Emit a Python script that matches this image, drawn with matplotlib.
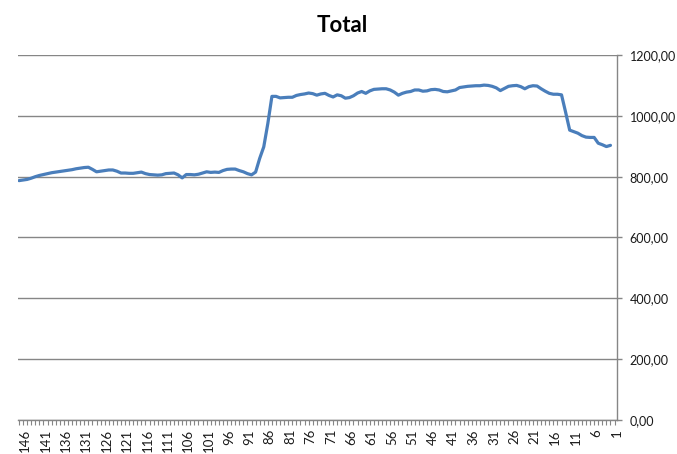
import numpy as np
import matplotlib
matplotlib.use("Agg")
import matplotlib.pyplot as plt
from matplotlib.transforms import ScaledTranslation
from matplotlib.ticker import FuncFormatter

# Categories run from 146 down to 1
categories = list(range(146, 0, -1))

values = [
    787, 789, 791, 795, 800, 804, 807, 810, 813, 815,
    817, 819, 821, 823, 826, 828, 830, 831, 824, 816,
    818, 820, 822, 822, 818, 812, 812, 811, 811, 813,
    815, 810, 807, 806, 805, 806, 810, 811, 812, 806,
    796, 807, 807, 806, 808, 812, 816, 814, 815, 814,
    820, 824, 825, 825, 820, 816, 810, 806, 815, 860,
    898, 975, 1064, 1064, 1059, 1060, 1061, 1061, 1067, 1070,
    1072, 1075, 1073, 1068, 1072, 1074, 1067, 1062, 1069, 1066,
    1058, 1060, 1066, 1075, 1080, 1074, 1082, 1087, 1088, 1089,
    1089, 1085, 1078, 1068, 1074, 1078, 1080, 1085, 1085, 1081,
    1082, 1086, 1087, 1085, 1080, 1079, 1082, 1085, 1093, 1095,
    1097, 1098, 1099, 1099, 1101, 1100, 1097, 1092, 1083, 1090,
    1097, 1099, 1100, 1096, 1089, 1096, 1099, 1098, 1089, 1081,
    1074, 1071, 1071, 1069, 1012, 953, 948, 943, 935, 930,
    929, 929, 910, 905, 899, 903,
]

label_every = 5
y_ticks = [0, 200, 400, 600, 800, 1000, 1200]
title = "Total"

plt.rcParams['font.family'] = ['Lato', 'DejaVu Sans']

W, H = 677, 454
fig = plt.figure(figsize=(W / 100, H / 100), dpi=100)
ax = fig.add_axes([18 / W, 1 - 420 / H, (617 - 18) / W, (420 - 55) / H])

pos = np.arange(len(categories))
ax.plot(pos, values, color="#4A7EBB", linewidth=2.3, solid_joinstyle="round",
        solid_capstyle="round", zorder=3)

ax.set_xlim(-0.25, len(categories) + 0.6)
ax.set_ylim(0, 1200)

# y axis on right
ax.yaxis.tick_right()
ax.set_yticks(y_ticks)
ax.yaxis.set_major_formatter(FuncFormatter(lambda v, p: f"{v:.2f}".replace(".", ",")))
ax.grid(axis="y", color="#868686", linewidth=1.0, zorder=0)
ax.tick_params(axis="y", right=True, left=False, length=3.5, width=1.0,
               color="#868686", pad=5.5, labelsize=9, labelcolor="#1a1a1a")

# x axis
major = pos[::label_every]
ax.set_xticks(major)
ax.set_xticklabels([str(categories[i]) for i in major], rotation=90,
                   va="top", ha="center")
ax.set_xticks(np.arange(0, len(categories) + 1), minor=True)
ax.tick_params(axis="x", which="both", length=3.5, width=0.8, color="#868686",
               pad=3, labelsize=9.5, labelcolor="#1a1a1a")
offset = ScaledTranslation(6 / 100, 0, fig.dpi_scale_trans)
for lab in ax.get_xticklabels():
    lab.set_transform(lab.get_transform() + offset)

for s in ["top", "left"]:
    ax.spines[s].set_visible(False)
for s in ["right", "bottom"]:
    ax.spines[s].set_color("#868686")
    ax.spines[s].set_linewidth(1.0)

fig.text(342 / W, 1 - 25 / H, title, ha="center", va="center",
         fontsize=16, fontweight="bold", color="#000000")

fig.savefig("out.png", dpi=100)
